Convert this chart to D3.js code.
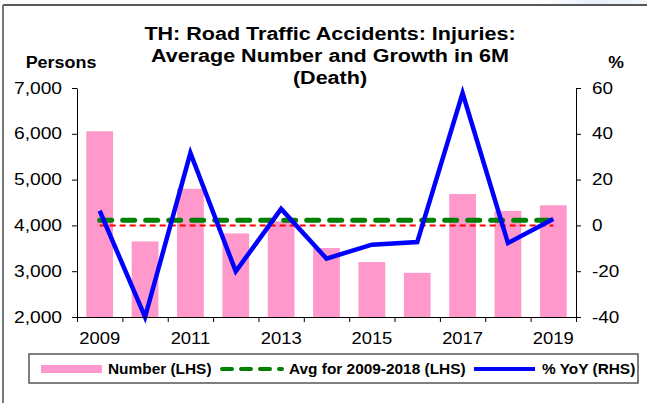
<!DOCTYPE html>
<html>
<head>
<meta charset="utf-8">
<script src="https://cdn.jsdelivr.net/npm/d3@7"></script>
<style>
body{margin:0;background:#fff;}
svg{display:block;font-family:"Liberation Sans",Arial,sans-serif;}
.axis path,.axis line{stroke:#000;}
.axis text{font-size:16px;fill:#000;}
</style>
</head>
<body>
<script>
// data
const years = ["2009","2010","2011","2012","2013","2014","2015","2016","2017","2018","2019"];
const numbers = [6055,3650,4800,3825,4090,3505,3200,2965,4685,4315,4440];
const yoy = [6.4,-40,31.6,-20.1,7.2,-14.5,-8.4,-7.3,57.8,-7.7,2.8];
const avgLevel = [4110];
const leftTicks = [2000,3000,4000,5000,6000,7000];
const rightTicks = [-40,-20,0,20,40,60];
const yearLabels = ["2009","2011","2013","2015","2017","2019"];

const width = 647, height = 403;
const margin = {top:88, bottom:86, left:77, right:71};
const innerW = width - margin.left - margin.right;
const innerH = height - margin.top - margin.bottom;

//the source picture is a bit wider than tall, so text is stretched sideways
function stretch(sel,k){
	sel.each(function(){
		let w = this.getComputedTextLength();
		d3.select(this).attr("textLength",w*k).attr("lengthAdjust","spacingAndGlyphs");
	});
}

let svg = d3.select("body").append("svg")
	.attr("width",width)
	.attr("height",height);

// faint blue corner and outer frame (only top and left edges are visible)
let grad = svg.append("defs").append("linearGradient").attr("id","corner");
grad.append("stop").attr("offset","0").attr("stop-color","#fff");
grad.append("stop").attr("offset","0.5").attr("stop-color","#e8eefa");
grad.append("stop").attr("offset","1").attr("stop-color","#f4f7fd");
svg.append("rect").attr("x",540).attr("y",0).attr("width",107).attr("height",5).attr("fill","url(#corner)");
svg.append("line").attr("x1",3).attr("x2",647).attr("y1",5).attr("y2",5)
	.attr("stroke","#222").attr("stroke-width",1.5);
svg.append("line").attr("x1",3).attr("x2",3).attr("y1",5).attr("y2",403)
	.attr("stroke","#777").attr("stroke-width",2);

//title
const title = ["TH: Road Traffic Accidents: Injuries:","Average Number and Growth in 6M","(Death)"];
svg.append("g").selectAll("text")
	.data(title).enter().append("text")
	.attr("x",330)
	.attr("y",(d,i)=>40+i*22)
	.attr("text-anchor","middle")
	.style("font-size","17.5px")
	.style("font-weight","bold")
	.text(d=>d)
	.call(stretch,1.23);

svg.append("text").attr("x",61).attr("y",68).attr("text-anchor","middle")
	.style("font-size","16px").style("font-weight","bold").text("Persons")
	.call(stretch,1.12);
svg.append("text").attr("x",616).attr("y",68).attr("text-anchor","middle")
	.style("font-size","16px").style("font-weight","bold").text("%")
	.call(stretch,1.1);

let g = svg.append("g")
	.attr("transform","translate("+margin.left+","+margin.top+")");

//scales
let xScale = d3.scaleBand()
	.domain(years)
	.range([0,innerW])
	.paddingInner(0.41)
	.paddingOuter(0.205);
let xEdges = d3.scaleLinear().domain([0,years.length]).range([0,innerW]);
let yLeft = d3.scaleLinear().domain([2000,7000]).range([innerH,0]);
let yRight = d3.scaleLinear().domain([-40,60]).range([innerH,0]);
const cx = d => xScale(d) + xScale.bandwidth()/2;

//bars
g.selectAll(".bar")
	.data(numbers)
	.enter().append("rect")
	.attr("class","bar")
	.attr("x",(d,i)=>xScale(years[i]))
	.attr("width",xScale.bandwidth())
	.attr("y",d=>yLeft(d))
	.attr("height",d=>innerH-yLeft(d))
	.attr("fill","#ff99cc");

//zero line of the right axis
g.append("line")
	.attr("x1",cx(years[0])).attr("x2",cx(years[years.length-1]))
	.attr("y1",yRight(0)).attr("y2",yRight(0))
	.attr("stroke","#ff0000").attr("stroke-width",2)
	.attr("stroke-dasharray","6,4");

//average line
g.append("line")
	.attr("x1",cx(years[0])).attr("x2",cx(years[years.length-1]))
	.attr("y1",yLeft(avgLevel[0])).attr("y2",yLeft(avgLevel[0]))
	.attr("stroke","#008000").attr("stroke-width",5)
	.attr("stroke-linecap","round")
	.attr("stroke-dasharray","12,11");

//yoy line
let line = d3.line()
	.x((d,i)=>cx(years[i]))
	.y(d=>yRight(d));
g.append("path")
	.datum(yoy)
	.attr("d",line)
	.attr("fill","none")
	.attr("stroke","#0000ff")
	.attr("stroke-width",4.5)
	.attr("stroke-linejoin","miter");

//axes
g.append("g").attr("class","axis")
	.call(d3.axisLeft(yLeft).tickValues(leftTicks).tickFormat(d3.format(",")).tickSize(5).tickPadding(10).tickSizeOuter(0))
	.call(a=>a.selectAll("text").call(stretch,1.2));
g.append("g").attr("class","axis")
	.attr("transform","translate("+innerW+",0)")
	.call(d3.axisRight(yRight).tickValues(rightTicks).tickFormat(d=>String(d)).tickSize(5).tickPadding(11).tickSizeOuter(0))
	.call(a=>a.selectAll("text").call(stretch,1.18));
g.append("g").attr("class","axis")
	.attr("transform","translate(0,"+innerH+")")
	.call(d3.axisBottom(xEdges).tickValues(d3.range(years.length+1)).tickFormat("").tickSize(5).tickSizeOuter(0));
g.append("g").attr("class","axis")
	.attr("transform","translate(0,"+innerH+")")
	.call(d3.axisBottom(xScale).tickValues(yearLabels).tickSize(0).tickPadding(16))
	.call(a=>a.select(".domain").remove())
	.call(a=>a.selectAll("text").call(stretch,1.15));

//legend
let leg = svg.append("g");
leg.append("rect").attr("x",29).attr("y",354).attr("width",609).attr("height",29)
	.attr("fill","#fff").attr("stroke","#555").attr("stroke-width",1.5);
leg.append("rect").attr("x",41).attr("y",365).attr("width",61).attr("height",8).attr("fill","#ff99cc");
leg.append("line").attr("x1",222).attr("x2",282).attr("y1",369).attr("y2",369)
	.attr("stroke","#008000").attr("stroke-width",4)
	.attr("stroke-linecap","round").attr("stroke-dasharray","10,9");
leg.append("line").attr("x1",474).attr("x2",535).attr("y1",369).attr("y2",369)
	.attr("stroke","#0000ff").attr("stroke-width",4);
const legText = [["Number (LHS)",108],["Avg for 2009-2018 (LHS)",289],["% YoY (RHS)",542]];
leg.selectAll(".lt").data(legText).enter().append("text")
	.attr("x",d=>d[1]).attr("y",374)
	.style("font-size","14px").style("font-weight","bold")
	.text(d=>d[0])
	.call(stretch,1.1);
</script>
</body>
</html>
